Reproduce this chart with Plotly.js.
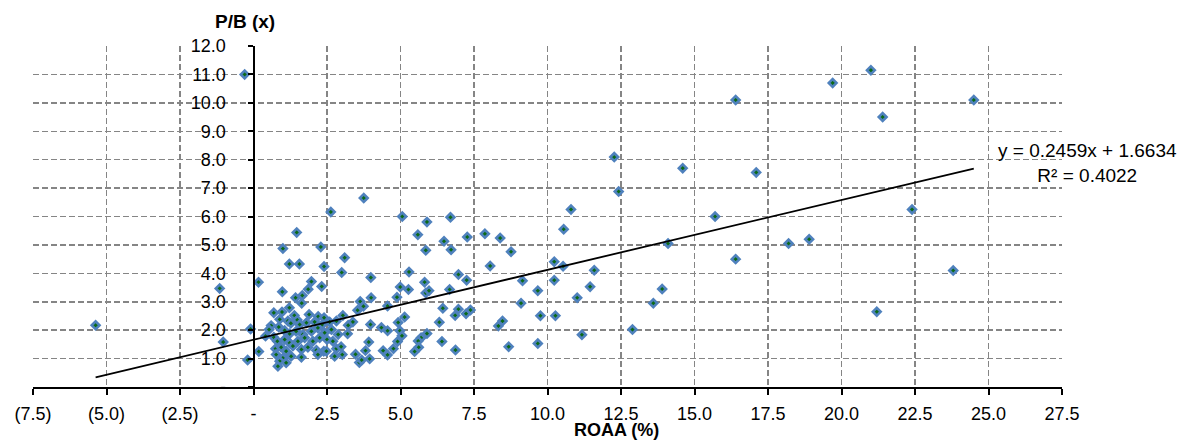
<!DOCTYPE html>
<html>
<head>
<meta charset="utf-8">
<script src="https://cdn.plot.ly/plotly-3.0.1.min.js"></script>
<style>
  html, body { margin: 0; padding: 0; background: #ffffff; }
  #chart { width: 1186px; height: 440px; }
</style>
</head>
<body>
<div id="chart"></div>
<script>
// ROAA (%) values (x) and P/B (x) values (y)
const roaa = [
  -5.37, -1.15, -1.03, -0.30, -0.10, -0.20, 0.17, 0.18,
  0.98, 1.43, 1.66, 1.86, 1.97, 2.32, 1.64, 0.69, 0.97, 1.22, 1.39, 1.89,
  2.20, 2.40, 0.89, 1.17, 1.49, 0.60, 0.53, 0.86, 1.27, 1.57,
  1.80, 2.08, 2.33, 2.59, 2.82, 0.41, 0.69, 1.06, 1.23, 1.45,
  1.68, 1.97, 2.19, 2.42, 2.65, 2.88, 0.81, 1.06, 1.23, 1.51,
  1.74, 2.02, 2.25, 2.50, 2.70, 0.75, 0.94, 1.11, 1.34, 1.63,
  1.85, 2.14, 2.39, 2.82, 0.77, 1.00, 0.89, 0.83, 1.11, 1.28,
  1.63, 2.19, 2.48, 2.76, 3.02,
  2.63, 1.47, 1.00, 2.29, 3.10, 1.22, 1.56, 2.40, 3.00,
  3.75, 5.06, 5.90, 6.70, 5.59, 6.48, 7.27, 7.87, 5.86, 6.72,
  3.99, 5.29, 6.97, 7.25, 8.05, 4.99, 5.27, 5.82, 5.86, 5.97,
  6.67, 4.88, 4.00, 3.63, 3.74, 3.54, 4.56, 6.44, 6.97, 7.38,
  6.86, 7.23, 3.04, 3.38, 3.22, 3.98, 4.92, 5.14, 4.98, 6.32,
  4.35, 4.56, 3.20, 5.05, 5.90, 5.70, 4.90, 5.60, 6.41, 3.92,
  2.98, 5.62, 4.76, 4.41, 5.48, 6.87, 3.47, 3.81, 4.56, 3.95,
  3.60, 3.68,
  12.27, 12.42, 10.80, 10.55, 8.39, 8.76, 10.23, 10.53, 11.59, 9.15,
  10.23, 9.67, 11.45, 11.01, 9.10, 9.76, 10.27, 8.33, 8.47, 11.17,
  12.89, 8.68, 9.67,
  13.6, 13.9, 14.1, 14.6, 15.7, 16.4, 16.4, 17.1, 18.2, 18.9,
  19.7, 21.0, 21.2, 21.4, 22.4, 23.8, 24.5
];
const pb = [
  2.17, 3.47, 1.58, 11.0, 2.04, 0.95, 3.69, 1.25,
  3.35, 3.14, 3.22, 3.44, 3.71, 3.54, 2.95, 2.61, 2.64, 2.79, 2.52, 2.55,
  2.48, 2.44, 2.38, 2.32, 2.36, 2.16, 2.02, 2.11, 2.24, 2.20,
  2.26, 2.29, 2.19, 2.29, 2.32, 1.79, 1.75, 1.99, 1.87, 1.96,
  1.85, 1.96, 2.08, 1.91, 2.02, 1.85, 1.61, 1.67, 1.55, 1.61,
  1.73, 1.61, 1.73, 1.67, 1.61, 1.35, 1.40, 1.26, 1.44, 1.32,
  1.40, 1.29, 1.26, 1.35, 1.14, 1.02, 0.91, 0.73, 0.85, 1.08,
  1.05, 1.14, 1.26, 1.08, 1.14,
  6.16, 5.44, 4.87, 4.93, 4.55, 4.33, 4.33, 4.24, 4.03,
  6.65, 6.00, 5.81, 5.97, 5.36, 5.13, 5.28, 5.39, 4.81, 4.83,
  3.85, 4.05, 3.96, 3.76, 4.26, 3.52, 3.43, 3.69, 3.31, 3.39,
  3.43, 3.16, 3.14, 3.01, 2.84, 2.70, 2.85, 2.77, 2.74, 2.71,
  2.52, 2.58, 2.52, 2.29, 2.17, 2.20, 2.27, 2.46, 1.98, 2.28,
  2.09, 1.98, 1.87, 1.80, 1.88, 1.73, 1.60, 1.62, 1.60, 1.58,
  1.42, 1.40, 1.35, 1.28, 1.25, 1.30, 1.15, 1.28, 1.13, 0.99,
  0.86, 0.95,
  8.09, 6.88, 6.25, 5.55, 5.24, 4.76, 4.41, 4.25, 4.11, 3.74,
  3.76, 3.39, 3.53, 3.14, 2.95, 2.51, 2.51, 2.15, 2.32, 1.84,
  2.02, 1.42, 1.53,
  2.95, 3.45, 5.05, 7.70, 6.00, 10.10, 4.50, 7.55, 5.05, 5.20,
  10.70, 11.15, 2.65, 9.50, 6.25, 4.10, 10.10
];

// Axis ticks
const xTickVals = [-7.5, -5, -2.5, 0, 2.5, 5, 7.5, 10, 12.5, 15, 17.5, 20, 22.5, 25, 27.5];
const xTickText = ['(7.5)', '(5.0)', '(2.5)', '-', '2.5', '5.0', '7.5', '10.0', '12.5', '15.0', '17.5', '20.0', '22.5', '25.0', '27.5'];
const yTickVals = [0, 1, 2, 3, 4, 5, 6, 7, 8, 9, 10, 11, 12];
const yTickText = ['-', '1.0', '2.0', '3.0', '4.0', '5.0', '6.0', '7.0', '8.0', '9.0', '10.0', '11.0', '12.0'];

// Linear trendline (as reported on the chart)
const trendSlope = 0.2459;
const trendIntercept = 1.6634;
const trendR2 = 0.4022;

const xMin = Math.min(...roaa);
const xMax = Math.max(...roaa);
const trendX = [xMin, xMax];
const trendY = trendX.map(v => trendSlope * v + trendIntercept);

const font = 'Liberation Sans, Arial, sans-serif';

const traces = [
  {
    x: roaa, y: pb, type: 'scatter', mode: 'markers',
    marker: { symbol: 'diamond', size: 6, color: '#0b6a16',
              line: { color: '#4f81bd', width: 2.6 } },
    hoverinfo: 'x+y', showlegend: false
  },
  {
    x: trendX, y: trendY, type: 'scatter', mode: 'lines',
    line: { color: '#000000', width: 1.8 },
    hoverinfo: 'skip', showlegend: false
  }
];

const layout = {
  width: 1186, height: 440,
  margin: { l: 33, r: 124, t: 46, b: 53 },
  paper_bgcolor: '#ffffff', plot_bgcolor: '#ffffff',
  font: { family: font, size: 18, color: '#000000' },
  showlegend: false,
  xaxis: {
    range: [-7.5, 27.5], tickmode: 'array', tickvals: xTickVals, ticktext: xTickText,
    showgrid: true, gridcolor: '#858585', gridwidth: 1.5, griddash: '6px,3px',
    zeroline: false, showline: true, linecolor: '#000000', linewidth: 2,
    ticks: 'outside', ticklen: 6, tickwidth: 2, tickcolor: '#000000',
    ticklabelstandoff: 3,
    tickfont: { family: font, size: 18, color: '#000000' },
    fixedrange: true
  },
  yaxis: {
    range: [0, 12], tickmode: 'array', tickvals: yTickVals, ticktext: yTickText,
    anchor: 'free', position: 7.5 / 35,
    showgrid: true, gridcolor: '#858585', gridwidth: 1.5, griddash: '6px,3px',
    zeroline: false, showline: true, linecolor: '#000000', linewidth: 2,
    ticks: 'outside', ticklen: 5, tickwidth: 2, tickcolor: '#000000',
    ticklabelstandoff: 18,
    tickfont: { family: font, size: 18, color: '#000000' },
    fixedrange: true
  },
  annotations: [
    { text: '<b>P/B (x)</b>', xref: 'paper', yref: 'paper', x: (245 - 33) / (1186 - 33 - 124), y: 1,
      yshift: 25, xanchor: 'center', yanchor: 'middle', showarrow: false,
      font: { family: font, size: 19, color: '#000000' } },
    { text: '<b>ROAA (%)</b>', xref: 'paper', yref: 'paper', x: (616 - 33) / (1186 - 33 - 124), y: 0,
      yshift: -43, xanchor: 'center', yanchor: 'middle', showarrow: false,
      font: { family: font, size: 18, color: '#000000' } },
    { text: 'y = ' + trendSlope.toFixed(4) + 'x + ' + trendIntercept.toFixed(4) + '<br>R² = ' + trendR2.toFixed(4),
      xref: 'paper', yref: 'paper', x: (1087 - 33) / (1186 - 33 - 124), y: (386.5 - 163) / 340.5,
      xanchor: 'center', yanchor: 'middle', align: 'center', showarrow: false,
      font: { family: font, size: 19, color: '#000000' } }
  ]
};

Plotly.newPlot('chart', traces, layout, { staticPlot: true, displayModeBar: false });
</script>
</body>
</html>
